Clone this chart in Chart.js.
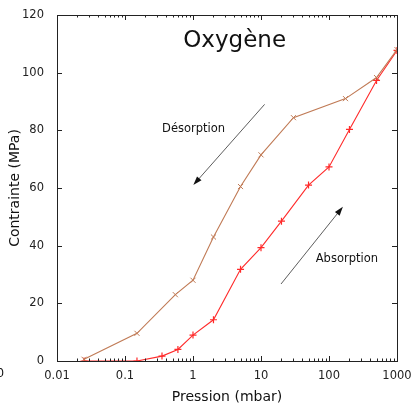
<!DOCTYPE html>
<html>
<head>
<meta charset="utf-8">
<script src="https://cdn.jsdelivr.net/npm/chart.js@4"></script>
<style>
  body { margin: 0; background: #fff; }
  #c { display: block; }
</style>
</head>
<body>
<canvas id="c" width="413" height="403"></canvas>
<script>
    // pression (mbar) / contrainte (MPa)
    var desorpX = [0.025, 0.15, 0.55, 1, 2, 5, 10, 30, 175, 500, 1000];
    var desorpY = [0.6, 9.6, 23, 28, 43, 60.5, 71.5, 84.4, 91, 98.3, 108];
    var absorpX = [0.025, 0.15, 0.35, 0.6, 1, 2, 5, 10, 20, 50, 100, 200, 500, 1000];
    var absorpY = [0, 0, 1.7, 4, 9, 14.3, 31.8, 39.3, 48.5, 61, 67.3, 80.3, 97.3, 107.7];
    var xTicks = [0.01, 0.1, 1, 10, 100, 1000];
    var yTicks = [0, 20, 40, 60, 80, 100, 120];

    // annotations: arrows [x0, y0, x1, y1] and labels
    var arrowDesorp = [11.3, 89, 1.01, 61];
    var arrowAbsorp = [19.7, 26.7, 160, 53.5];
    var labels = [
        { text: 'Désorption', x: 1.02, y: 80.3, size: 11.5 },
        { text: 'Absorption', x: 183, y: 35.3, size: 11.5 },
        { text: 'Oxygène', x: 4.1, y: 111, size: 23 }
    ];

    function toXY(xs, ys) {
        return xs.map(function(x, i) { return { x: x, y: ys[i] }; });
    }

    var font = "'DejaVu Sans', sans-serif";

    var frame = {
        id: 'frame',
        afterDraw: function(chart) {
            var ctx = chart.ctx, a = chart.chartArea;
            var xs = chart.scales.x, ys = chart.scales.y;
            ctx.save();
            ctx.strokeStyle = '#222';
            ctx.lineWidth = 1;
            // inward ticks
            ctx.beginPath();
            for (var d = 0.01; d < 1000; d *= 10) {
                for (var k = 1; k <= 10; k++) {
                    var v = d * k;
                    if (v > 1000.0001) break;
                    var px = Math.round(xs.getPixelForValue(v)) + 0.5;
                    var len = (k === 1 || k === 10) ? 5 : 2.5;
                    ctx.moveTo(px, a.bottom); ctx.lineTo(px, a.bottom - len);
                    ctx.moveTo(px, a.top); ctx.lineTo(px, a.top + len);
                }
            }
            yTicks.forEach(function(v) {
                var py = Math.round(ys.getPixelForValue(v)) + 0.5;
                ctx.moveTo(a.left, py); ctx.lineTo(a.left + 5, py);
                ctx.moveTo(a.right, py); ctx.lineTo(a.right - 5, py);
            });
            ctx.stroke();
            ctx.strokeRect(Math.round(a.left) + 0.5, Math.round(a.top) + 0.5,
                Math.round(a.right - a.left), Math.round(a.bottom - a.top));

            // arrows
            [arrowDesorp, arrowAbsorp].forEach(function(ar) {
                var x0 = xs.getPixelForValue(ar[0]), y0 = ys.getPixelForValue(ar[1]);
                var x1 = xs.getPixelForValue(ar[2]), y1 = ys.getPixelForValue(ar[3]);
                var ang = Math.atan2(y1 - y0, x1 - x0);
                ctx.strokeStyle = '#333';
                ctx.fillStyle = '#111';
                ctx.lineWidth = 0.8;
                ctx.beginPath();
                ctx.moveTo(x0, y0); ctx.lineTo(x1 - 5 * Math.cos(ang), y1 - 5 * Math.sin(ang));
                ctx.stroke();
                ctx.beginPath();
                ctx.moveTo(x1, y1);
                ctx.lineTo(x1 - 9 * Math.cos(ang) + 3 * Math.sin(ang), y1 - 9 * Math.sin(ang) - 3 * Math.cos(ang));
                ctx.lineTo(x1 - 9 * Math.cos(ang) - 3 * Math.sin(ang), y1 - 9 * Math.sin(ang) + 3 * Math.cos(ang));
                ctx.closePath();
                ctx.fill();
            });

            // texts
            ctx.fillStyle = '#111';
            ctx.textAlign = 'center';
            ctx.textBaseline = 'middle';
            labels.forEach(function(l) {
                ctx.font = l.size + 'px ' + font;
                ctx.fillText(l.text, xs.getPixelForValue(l.x), ys.getPixelForValue(l.y));
            });
            // clipped label at the far left edge
            ctx.font = '11.5px ' + font;
            ctx.textAlign = 'right';
            ctx.fillText('0', 4, a.bottom + 13);
            ctx.restore();
        }
    };

    var chart = new Chart(document.getElementById('c').getContext('2d'), {
        type: 'line',
        data: {
            datasets: [{
                label: 'Désorption',
                data: toXY(desorpX, desorpY),
                borderColor: '#c07a55',
                backgroundColor: '#c07a55',
                borderWidth: 1.1,
                pointStyle: 'crossRot',
                pointRadius: 3.6,
                pointBorderWidth: 1,
                tension: 0
            }, {
                label: 'Absorption',
                data: toXY(absorpX, absorpY),
                borderColor: '#ff2a2a',
                backgroundColor: '#ff2a2a',
                borderWidth: 1.1,
                pointStyle: 'cross',
                pointRadius: 3.5,
                pointBorderWidth: 1.2,
                tension: 0
            }]
        },
        options: {
            responsive: false,
            animation: false,
            layout: { padding: { left: 0, right: 16, top: 15, bottom: 0 } },
            plugins: {
                legend: { display: false },
                tooltip: { enabled: false }
            },
            scales: {
                x: {
                    type: 'logarithmic',
                    min: 0.01,
                    max: 1000,
                    afterBuildTicks: function(s) {
                        s.ticks = xTicks.map(function(v) { return { value: v }; });
                    },
                    afterFit: function(s) {
                        s.height = 42;
                        s.paddingLeft = 0;
                        s.paddingRight = 0;
                    },
                    grid: { display: false },
                    border: { display: false },
                    ticks: {
                        autoSkip: false,
                        maxRotation: 0,
                        padding: 0,
                        color: '#222',
                        font: { family: font, size: 11.5 },
                        callback: function(v) { return String(v); }
                    },
                    title: {
                        display: true,
                        text: 'Pression (mbar)',
                        color: '#111',
                        font: { family: font, size: 14 },
                        padding: { top: 0, bottom: -3 }
                    }
                },
                y: {
                    min: 0,
                    max: 120,
                    afterBuildTicks: function(s) {
                        s.ticks = yTicks.map(function(v) { return { value: v }; });
                    },
                    afterFit: function(s) {
                        s.width = 57;
                        s.paddingTop = 0;
                        s.paddingBottom = 0;
                    },
                    grid: { display: false },
                    border: { display: false },
                    ticks: {
                        padding: 5,
                        color: '#222',
                        font: { family: font, size: 11.5 }
                    },
                    title: {
                        display: true,
                        text: 'Contrainte (MPa)',
                        color: '#111',
                        font: { family: font, size: 14 },
                        padding: { top: 7, bottom: 0 }
                    }
                }
            }
        },
        plugins: [frame]
    });
</script>
</body>
</html>
